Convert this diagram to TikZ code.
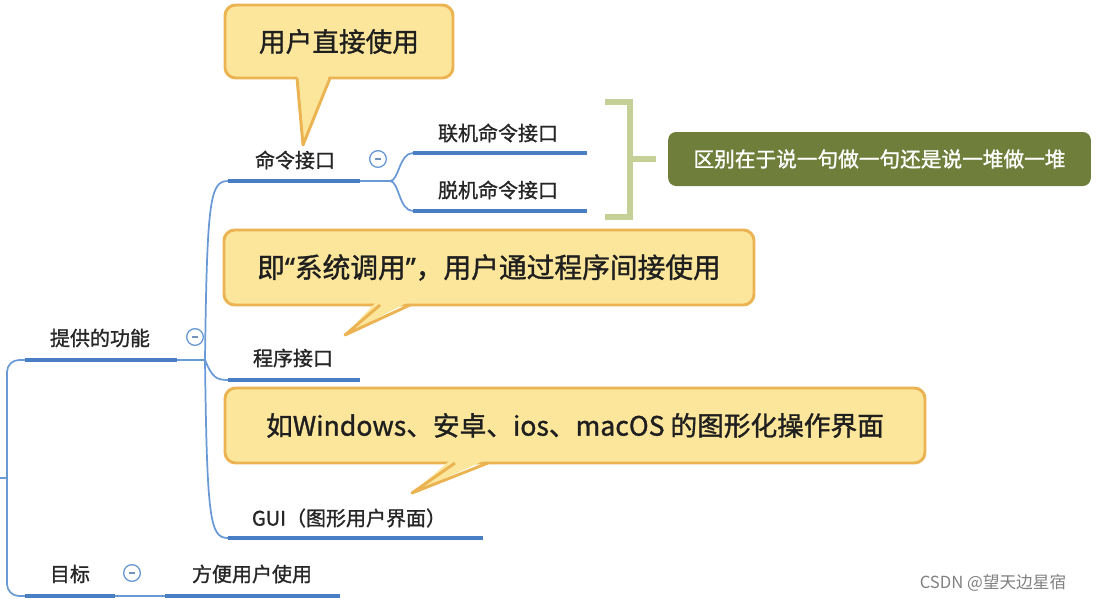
\documentclass[tikz,border=0pt]{standalone}
\usepackage{fontspec}
\setmainfont[FakeBold=1.2]{Noto Sans CJK SC}
\newfontfamily\plainfont{Noto Sans CJK SC}
\newfontfamily\quotefont[FakeBold=1.2]{Noto Sans}
\definecolor{ubl}{HTML}{4A7EC4}
\definecolor{cbl}{HTML}{6A9AD6}
\definecolor{cfill}{HTML}{FBE69B}
\definecolor{cedge}{HTML}{EBB352}
\definecolor{gbox}{HTML}{6F7F3B}
\definecolor{gbr}{HTML}{C5D096}
\tikzset{
  topic/.style={font=\fontsize{15}{18}\selectfont, text=black!85, inner sep=0pt},
  uline/.style={draw=ubl, line width=3pt},
  conn/.style={draw=cbl, line width=1.3pt},
  callout/.style={draw=cedge, fill=cfill, line width=2.2pt, rounded corners=8pt,
    font=\fontsize{20}{24}\selectfont, text=black!88, inner sep=0pt},
  ptr/.style={draw=cedge, line width=2.2pt, line join=round},
  minus/.style={circle, draw=cbl, line width=1pt, minimum size=12.5pt, inner sep=0pt,
    path picture={\draw[cbl!70!gray, line width=0.9pt] ([xshift=-2.5pt]path picture bounding box.center) -- ([xshift=2.5pt]path picture bounding box.center);}},
  gnode/.style={fill=gbox, rounded corners=6pt, text=white, inner sep=0pt,
    font=\fontsize{15.5}{18}\selectfont},
  brk/.style={draw=gbr, line width=4.5pt}
}
\begin{document}
\begin{tikzpicture}[x=0.75pt,y=-0.75pt]
\useasboundingbox (0,0) rectangle (1098,603);

% underline coordinates
\coordinate (gnL) at (25,360);  \coordinate (gnR) at (177,360);
\coordinate (tgL) at (25,596);  \coordinate (tgR) at (115,596);
\coordinate (fbL) at (165,596); \coordinate (fbR) at (340,596);
\coordinate (cmL) at (228,181); \coordinate (cmR) at (360,181);
\coordinate (cxL) at (228,380); \coordinate (cxR) at (360,380);
\coordinate (guL) at (228,538); \coordinate (guR) at (483,538);
\coordinate (ljL) at (413,153); \coordinate (ljR) at (587,153);
\coordinate (tjL) at (413,211); \coordinate (tjR) at (587,211);
\coordinate (hub) at (205,360);
\coordinate (cmh) at (390,181);
\coordinate (rootx) at (7,478);
\coordinate (rootend) at (0,478);

% topic labels
\node[topic] (gn) at (100,338) {提供的功能};
\node[topic] (tg) at (70,574) {目标};
\node[topic] (fb) at (252,574) {方便用户使用};
\node[topic] (cm) at (295,160) {命令接口};
\node[topic] (cx) at (293,358) {程序接口};
\node[topic] (gu) at (349,518) {GUI（图形用户界面）};
\node[topic] (lj) at (498,133) {联机命令接口};
\node[topic] (tj) at (498,190) {脱机命令接口};

% connectors
\draw[conn, rounded corners=9pt] (gnL) -| (rootx) |- (tgL);
\draw[conn] (rootend) -- (rootx);
\draw[conn] (gnR) -- (hub);
\draw[conn] (hub) .. controls (207,200) and (210,181) .. (cmL);
\draw[conn] (hub) .. controls (212,377) and (216,380) .. (cxL);
\draw[conn] (hub) .. controls (207,520) and (210,538) .. (guL);
\draw[conn] (tgR) -- (fbL);
\draw[conn] (cmR) -- (cmh);
\draw[conn] (cmh) .. controls (399,181) and (399,153) .. (ljL);
\draw[conn] (cmh) .. controls (399,181) and (399,211) .. (tjL);

% underlines
\foreach \a/\b in {gnL/gnR, tgL/tgR, fbL/fbR, cmL/cmR, cxL/cxR, guL/guR, ljL/ljR, tjL/tjR}
  \draw[uline] (\a) -- (\b);

% collapse markers
\node[minus] (m1) at (195,337) {};
\node[minus] (m2) at (378,159) {};
\node[minus] (m3) at (132,573) {};

% bracket and summary
\coordinate (bt) at (605,102); \coordinate (bb) at (605,217);
\coordinate (bm) at (630,159); \coordinate (bmx) at (656,159);
\draw[brk] (bt) -| (bm) |- (bb);
\draw[brk] (630,102) -- (630,217);
\draw[brk] (bm) -- (bmx);
\node[gnode, minimum width=317pt, minimum height=40.5pt] (sum) at (879.5,159)
  {区别在于说一句做一句还是说一堆做一堆};

% callouts
\node[callout, minimum width=171pt, minimum height=54.75pt] (c1) at (339,41.5) {用户直接使用};
\coordinate (c1a) at (297,78); \coordinate (c1b) at (330,78); \coordinate (c1t) at (303,145);
\fill[cfill] (297,73) -- (c1t) -- (330,73) -- cycle;
\draw[ptr] (c1a) -- (c1t) -- (c1b);

\node[callout, font=\fontsize{20.8}{24}\selectfont, minimum width=397.5pt, minimum height=56.25pt] (c2) at (489,267.5) {即{\quotefont “}系统调用{\quotefont ”}，用户通过程序间接使用};
\coordinate (c2a) at (380,305); \coordinate (c2b) at (410,305); \coordinate (c2t) at (345,335);
\fill[cfill] (378,300) -- (c2t) -- (412,300) -- cycle;
\draw[ptr] (c2a) -- (c2t) -- (c2b);

\node[callout, minimum width=525pt, minimum height=56.25pt] (c3) at (575,425.5) {如Windows、安卓、ios、macOS 的图形化操作界面};
\coordinate (c3a) at (455,463); \coordinate (c3b) at (488,463); \coordinate (c3t) at (412,493);
\fill[cfill] (453,458) -- (c3t) -- (490,458) -- cycle;
\draw[ptr] (c3a) -- (c3t) -- (c3b);

% watermark
\node[text=black!50, font=\plainfont\fontsize{12.5}{15}\selectfont, inner sep=0pt] (wm) at (993,583) {CSDN @望天边星宿};
\end{tikzpicture}
\end{document}
